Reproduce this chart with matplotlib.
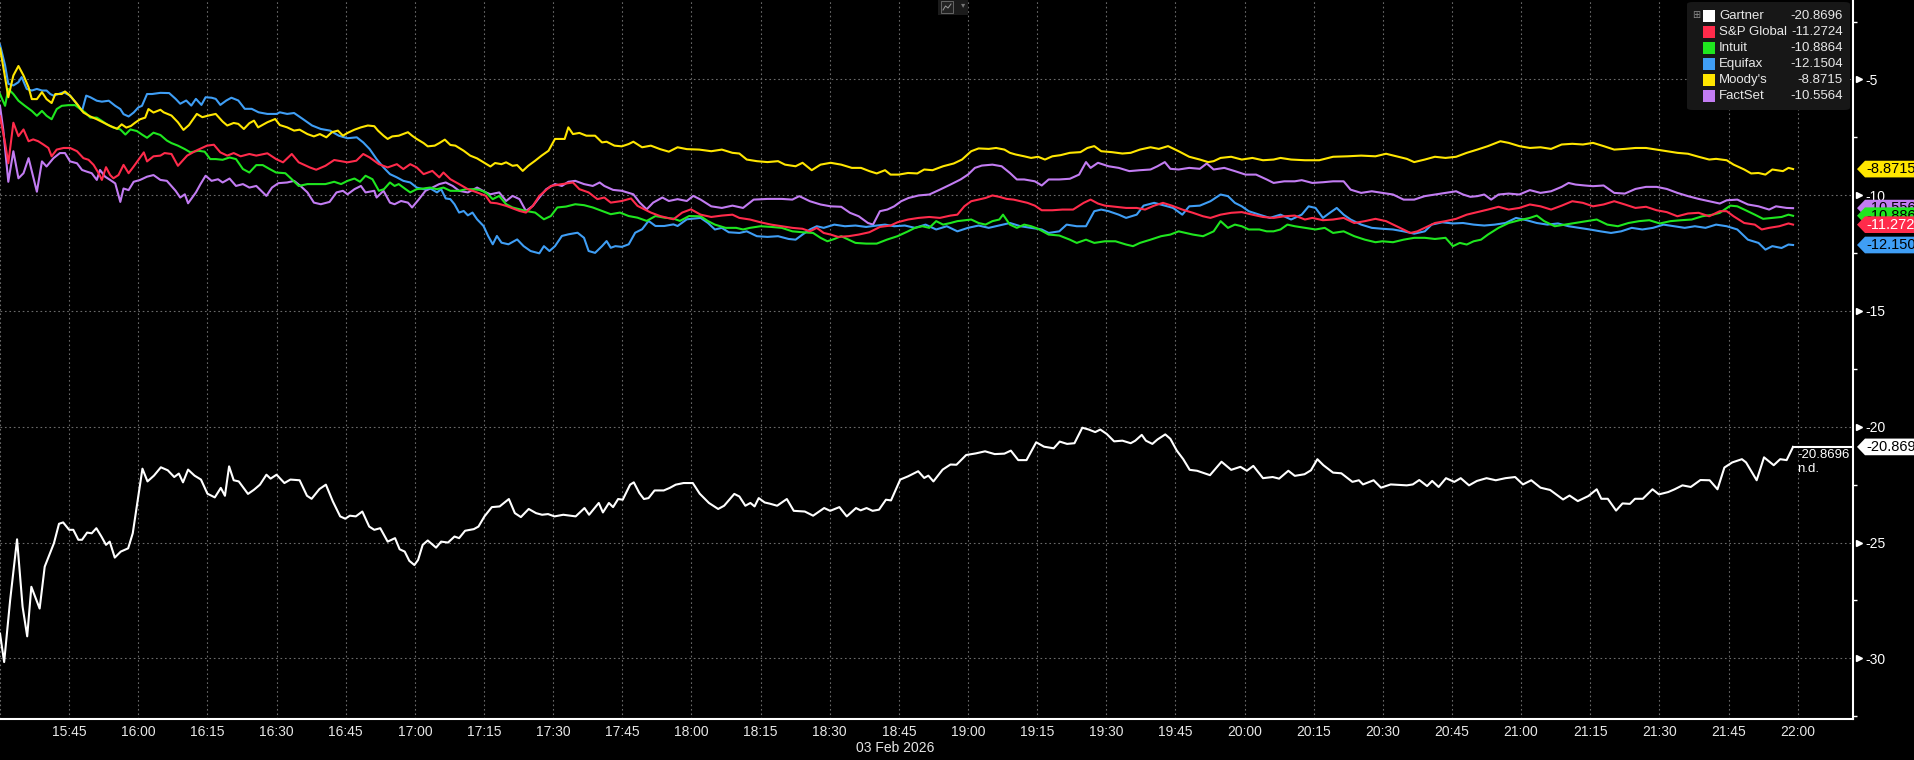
import matplotlib
matplotlib.use("Agg")
import matplotlib.pyplot as plt
import matplotlib.transforms as mtransforms
from matplotlib.patches import Polygon, Rectangle, FancyBboxPatch
from matplotlib.lines import Line2D
from matplotlib.ticker import AutoMinorLocator
import pandas as pd

plt.rcParams["font.family"] = ["Liberation Sans", "DejaVu Sans"]

# === DATA: (minutes after 15:30, % change) ===
names = ["Gartner", "S&P Global", "Intuit", "Equifax", "Moody's", "FactSet"]
colors = ["#ffffff", "#ff2b4b", "#1fe61f", "#3f9ef5", "#ffe600", "#c27cf2"]
tag_text_colors = ["black", "white", "black", "black", "black", "black"]
last_values = [-20.8696, -11.2724, -10.8864, -12.1504, -8.8715, -10.5564]

session_date = "2026-02-03"
date_label = "03 Feb 2026"
x_labels = ["15:45", "16:00", "16:15", "16:30", "16:45", "17:00", "17:15", "17:30",
            "17:45", "18:00", "18:15", "18:30", "18:45", "19:00", "19:15", "19:30",
            "19:45", "20:00", "20:15", "20:30", "20:45", "21:00", "21:15", "21:30",
            "21:45", "22:00"]
y_ticks = [-5, -10, -15, -20, -25, -30]

gartner = [
    (0, -28.93), (0.9, -30.16), (2.2, -27.49), (3.7, -24.86), (4.9, -27.77), (5.9, -29.05),
    (6.8, -26.91), (8.6, -27.85), (9.7, -26.04), (11.7, -25.03), (12.8, -24.19), (13.7, -24.13),
    (15, -24.45), (15.9, -24.45), (17, -24.88), (17.8, -24.88), (18.9, -24.57), (19.9, -24.60),
    (20.9, -24.38), (22, -24.74), (23, -25.10), (23.8, -24.96), (24.9, -25.65), (26.2, -25.39),
    (27.8, -25.25), (28.8, -24.60), (29.9, -23.15), (30.9, -21.81), (32, -22.36), (33.4, -22.11),
    (34.9, -21.75), (36.4, -21.88), (37.8, -22.17), (38.8, -22.02), (39.7, -22.40), (40.8, -21.85),
    (42.2, -22.11), (43.6, -22.28), (45, -22.89), (46.6, -23.05), (47.9, -22.64), (48.8, -22.98),
    (49.7, -21.71), (50.7, -22.31), (51.8, -22.36), (53.8, -22.90), (55.1, -22.72), (56.4, -22.50),
    (57.8, -22.07), (58.7, -22.24), (60, -22.07), (61.7, -22.43), (63, -22.28), (65, -22.31),
    (66.6, -22.98), (67.6, -23.11), (69.3, -22.69), (70.7, -22.50), (72.2, -23.22), (73.8, -23.87),
    (74.9, -23.97), (75.9, -23.84), (77.2, -23.87), (78.6, -23.66), (80.1, -24.31), (81.2, -24.45),
    (82.5, -24.38), (84.1, -24.96), (85.7, -24.81), (86.7, -25.29), (87.8, -25.39), (88.8, -25.79),
    (89.9, -25.97), (90.7, -25.75), (91.7, -25.10), (92.8, -24.91), (94.6, -25.22), (95.7, -24.96),
    (97.2, -25.00), (98.6, -24.74), (99.6, -24.81), (100.9, -24.49), (102.8, -24.42), (103.8, -24.31),
    (105.1, -23.87), (106.7, -23.47), (108.4, -23.44), (110.4, -23.12), (111.7, -23.73), (113, -23.90),
    (114.7, -23.55), (116.3, -23.73), (117.6, -23.80), (118.9, -23.77), (120.3, -23.87), (122.2, -23.80),
    (124.9, -23.87), (126.8, -23.51), (127.8, -23.80), (129.9, -23.29), (130.8, -23.70), (132.1, -23.29),
    (133, -23.47), (134.1, -23.12), (135.1, -23.15), (136.7, -22.50), (137.5, -22.40), (138.7, -22.86),
    (139.7, -23.12), (140.7, -23.08), (142, -22.75), (144, -22.75), (145.3, -22.64), (146.6, -22.50),
    (148.3, -22.43), (150.3, -22.43), (151.8, -22.89), (153.8, -23.29), (155.8, -23.55), (157.1, -23.41),
    (159.3, -22.90), (160.4, -23.01), (161.7, -23.41), (162.8, -23.29), (163.7, -23.44), (164.6, -23.08),
    (165.9, -23.27), (167, -23.32), (168.6, -23.41), (170.7, -23.12), (172.2, -23.63), (174.6, -23.66),
    (176.4, -23.84), (178.8, -23.51), (180.1, -23.63), (182.1, -23.47), (183.7, -23.87), (185.7, -23.51),
    (186.7, -23.61), (188, -23.51), (189.3, -23.63), (190.7, -23.58), (192.2, -23.15), (193.3, -23.18),
    (195.3, -22.28), (197, -22.14), (199.2, -21.92), (200.5, -22.21), (201.4, -22.11), (202.5, -22.36),
    (204.5, -21.85), (206.2, -21.63), (207.5, -21.64), (209.6, -21.22), (211.7, -21.15), (213.7, -21.06),
    (215.8, -21.18), (217.9, -21.16), (219.3, -21.03), (220.9, -21.44), (222.7, -21.44), (224.8, -20.67),
    (226.5, -20.86), (228.6, -20.93), (229.9, -20.64), (231.5, -20.74), (233.1, -20.71), (234.8, -20.04),
    (236.2, -20.12), (237.6, -20.23), (238.7, -20.12), (240.1, -20.31), (241.7, -20.63), (243.5, -20.60),
    (245.3, -20.71), (246.3, -20.60), (247.7, -20.35), (248.6, -20.60), (250, -20.74), (251.1, -20.55),
    (252.8, -20.33), (253.9, -20.52), (255.3, -21.03), (256.7, -21.40), (258.1, -21.86), (259.7, -21.90),
    (261.5, -22.02), (262.5, -22.09), (265, -21.51), (267.1, -21.86), (269.1, -21.73), (270.5, -21.90),
    (271.9, -21.69), (274, -22.22), (276.1, -22.17), (277.5, -22.24), (279.5, -21.90), (280.9, -22.12),
    (283, -22.05), (284.4, -21.88), (285.8, -21.40), (287.1, -21.66), (289.2, -21.98), (291, -22.01),
    (293.4, -22.38), (294.8, -22.31), (295.7, -22.49), (298, -22.31), (299.6, -22.63), (301.7, -22.49),
    (305.2, -22.53), (306.5, -22.49), (307.9, -22.30), (309.6, -22.56), (310.7, -22.34), (312.1, -22.60),
    (313.7, -22.22), (315.5, -22.38), (316.9, -22.22), (318.7, -22.53), (320.4, -22.34), (322.5, -22.22),
    (324.5, -22.31), (326.6, -22.22), (328.7, -22.17), (330.4, -22.49), (332.2, -22.31), (334.2, -22.63),
    (336.3, -22.73), (339.1, -23.14), (340.5, -22.97), (342.3, -23.21), (344.6, -22.99), (346.4, -22.70),
    (347.4, -23.11), (348.8, -23.11), (350.6, -23.62), (352, -23.31), (353.6, -23.33), (354.7, -23.11),
    (356.4, -23.11), (358.5, -22.70), (359.9, -22.92), (361.9, -22.82), (363.3, -22.70), (365, -22.53),
    (366.8, -22.60), (368.9, -22.30), (370.9, -22.31), (372.6, -22.70), (374.1, -21.76), (375.8, -21.54),
    (377.9, -21.40), (378.8, -21.54), (381.1, -22.31), (382.7, -21.32), (384.8, -21.66), (386.2, -21.40),
    (387.6, -21.44), (389, -20.87),
]

sp_global = [
    (0, -6.60), (1.1, -7.74), (1.8, -8.62), (2.9, -6.87), (4, -7.45), (5.1, -7.16), (6.2, -7.67),
    (7.2, -7.59), (8.3, -7.67), (9.4, -7.81), (10.5, -7.96), (11.2, -8.32), (12.3, -8.03), (13.8, -7.96),
    (15.2, -7.96), (16.7, -8.10), (18.1, -8.40), (19.2, -8.47), (20.3, -8.69), (21.4, -9.05), (22.1, -9.34),
    (23, -8.79), (23.9, -9.13), (24.6, -9.27), (25.7, -9.13), (26.8, -8.69), (27.9, -9.05), (29, -8.76),
    (31.2, -8.15), (31.9, -8.54), (33.3, -8.32), (34.8, -8.29), (35.7, -8.18), (37.2, -8.22), (38.6, -8.73),
    (40.6, -8.29), (42.5, -8.08), (44.9, -7.86), (46.4, -7.82), (47.8, -8.15), (49.3, -8.29), (50.7, -8.18),
    (52.2, -8.32), (54.1, -8.22), (55.6, -8.29), (58, -8.19), (59.9, -8.44), (61.4, -8.58), (63.3, -8.22),
    (64.8, -8.58), (67.2, -8.80), (68.6, -8.90), (70.6, -8.73), (72.5, -8.48), (75.4, -8.58), (77.3, -8.51),
    (78.8, -8.22), (80.2, -8.37), (82.2, -8.66), (84.1, -8.80), (86.1, -8.66), (87.5, -8.87), (89, -8.66),
    (90.4, -8.80), (91.9, -9.09), (93.8, -8.95), (95.3, -9.23), (96.2, -9.02), (97.7, -9.31), (99.6, -9.52),
    (101.5, -9.74), (103.5, -9.88), (105.4, -10.03), (106.4, -10.32), (107.8, -10.35), (109.8, -10.46),
    (112.7, -10.68), (114.1, -10.75), (115.6, -10.46), (117, -10.03), (119.5, -9.60), (121.9, -9.52),
    (124.3, -9.45), (125.7, -9.74), (127.7, -9.88), (129.6, -10.17), (131.1, -10.10), (132.5, -10.32),
    (134.9, -10.25), (136.9, -10.14), (138.3, -10.46), (139.8, -10.61), (141.2, -10.75), (143.2, -10.90),
    (146.1, -11.04), (148, -10.75), (149.9, -10.61), (152, -10.84), (154.3, -10.94), (156.6, -10.88),
    (158.9, -10.84), (160.4, -10.98), (162.7, -11.05), (165, -11.17), (167.3, -11.27), (169.6, -11.34),
    (171.9, -11.41), (174.1, -11.45), (175.7, -11.56), (177.2, -11.41), (178.7, -11.63), (180.2, -11.70),
    (181.8, -11.80), (184.1, -11.77), (186.3, -11.70), (188.6, -11.60), (190.9, -11.37), (193.2, -11.31),
    (194.7, -11.17), (197, -11.05), (199.3, -10.98), (201.6, -10.94), (203.9, -10.98), (206.2, -10.88),
    (207.7, -10.84), (209.2, -10.48), (210.7, -10.26), (212.3, -10.19), (213.8, -10.12), (215.3, -10.01),
    (216.8, -10.07), (218.4, -10.16), (219.9, -10.19), (221.4, -10.26), (222.9, -10.33), (224.5, -10.45),
    (226, -10.65), (228.3, -10.65), (230.5, -10.62), (232.8, -10.62), (235.1, -10.33), (236.6, -10.19),
    (238.2, -10.36), (239.7, -10.45), (242, -10.50), (244.3, -10.55), (246.6, -10.55), (248.4, -10.62),
    (250.4, -10.45), (252.3, -10.33), (254.2, -10.45), (256.5, -10.62), (258.8, -10.76), (261, -10.91),
    (262.6, -10.98), (264.8, -10.84), (267.1, -10.76), (269.4, -10.73), (271.7, -10.84), (274, -10.94),
    (276.3, -10.98), (278.6, -10.91), (280.9, -10.88), (283.1, -11.05), (284.7, -10.98), (287, -11.08),
    (289.2, -11.05), (291.5, -10.98), (293.8, -11.20), (296.1, -11.12), (298.4, -11.02), (300.7, -11.12),
    (303, -11.34), (304.5, -11.48), (306, -11.63), (307.5, -11.56), (309.1, -11.41), (311.3, -11.20),
    (313.6, -11.12), (315.9, -11.02), (318.2, -10.84), (320.5, -10.73), (322.8, -10.62), (325.1, -10.50),
    (327.3, -10.62), (329.6, -10.55), (331.9, -10.40), (334.2, -10.48), (336.5, -10.62), (338.8, -10.45),
    (341.1, -10.26), (343.4, -10.33), (345.6, -10.48), (347.9, -10.40), (350.2, -10.26), (352.5, -10.40),
    (354.8, -10.55), (357.1, -10.50), (359.4, -10.65), (361.6, -10.73), (363.9, -10.91), (366.2, -10.79),
    (368.5, -10.76), (370.8, -10.91), (373.1, -10.69), (374.6, -10.69), (376.1, -10.91), (378.4, -11.20),
    (380.7, -11.27), (382.2, -11.48), (383.8, -11.41), (386, -11.34), (388, -11.22), (389, -11.27),
]

intuit = [
    (0, -5.63), (1.1, -6.14), (1.8, -5.41), (2.9, -5.63), (4, -5.92), (5.4, -6.14), (6.9, -6.36),
    (8, -6.57), (9.1, -6.36), (10.1, -6.57), (11.2, -6.72), (12.3, -6.28), (13.4, -6.14), (14.9, -6.11),
    (16.3, -6.11), (17.4, -6.28), (18.5, -6.43), (19.6, -6.65), (21, -6.65), (22.1, -6.79), (23.2, -6.94),
    (24.6, -7.08), (26.1, -7.16), (27.2, -7.38), (28.3, -7.16), (29.7, -7.23), (30.8, -7.38), (31.9, -7.52),
    (33.3, -7.30), (34.8, -7.40), (36.2, -7.64), (37.2, -7.75), (38.6, -7.86), (40.1, -8.01), (41.3, -8.15),
    (43, -8.08), (44.4, -8.12), (45.6, -8.44), (46.8, -8.44), (48.3, -8.47), (49.8, -8.37), (51.2, -8.44),
    (52.7, -8.87), (54.1, -9.02), (55.6, -8.70), (57, -8.70), (58.5, -8.87), (59.9, -9.02), (61.9, -9.05),
    (63.3, -9.31), (64.8, -9.60), (66.7, -9.52), (68.6, -9.52), (70.6, -9.52), (72.5, -9.42), (74, -9.52),
    (75.4, -9.38), (76.9, -9.28), (78.1, -9.42), (79.3, -9.16), (80.8, -9.31), (82.2, -9.81), (83.3, -9.74),
    (84.6, -9.45), (85.6, -9.60), (86.5, -9.52), (88, -9.74), (89, -9.88), (90.4, -9.74), (91.9, -9.71),
    (93.3, -9.67), (94.8, -9.74), (96.2, -9.67), (97.7, -9.81), (99.6, -9.81), (101.1, -9.74), (102.5, -9.74),
    (104, -9.77), (105.4, -9.88), (106.9, -10.17), (108.3, -10.03), (109.8, -10.39), (111.2, -10.53),
    (112.7, -10.61), (114.1, -10.68), (116.1, -10.75), (118, -11.04), (119.5, -10.90), (120.9, -10.53),
    (122.8, -10.49), (124.8, -10.39), (126.7, -10.43), (128.6, -10.53), (130.6, -10.68), (132.5, -10.82),
    (134.5, -10.75), (136.4, -10.90), (138.3, -10.97), (140.3, -11.11), (142.2, -10.90), (144.1, -10.97),
    (146.1, -11.01), (147.5, -11.11), (149.5, -10.90), (152, -10.91), (153.6, -11.12), (155.1, -11.27),
    (157.4, -11.41), (159.7, -11.41), (161.2, -11.48), (162.7, -11.41), (165, -11.34), (167.3, -11.37),
    (169.6, -11.41), (171.9, -11.56), (174.1, -11.60), (176.4, -11.63), (178, -11.84), (179.5, -11.99),
    (181, -11.89), (182.5, -11.77), (184.1, -11.92), (185.6, -12.06), (187.9, -12.09), (190.2, -12.09),
    (192.4, -11.92), (194.7, -11.77), (197, -11.56), (198.5, -11.41), (200.1, -11.34), (201.6, -11.41),
    (203.1, -11.12), (204.6, -11.27), (206.2, -11.20), (207.7, -11.12), (210.7, -11.05), (212.3, -11.20),
    (213.8, -11.27), (215.3, -11.12), (216.8, -11.05), (217.6, -10.84), (219.1, -11.27), (220.6, -11.41),
    (222.2, -11.27), (223.7, -11.34), (225.2, -11.45), (227.5, -11.70), (229.8, -11.74), (232.1, -11.92),
    (233.6, -12.06), (235.6, -11.92), (237.4, -12.06), (239.7, -11.99), (242, -11.99), (244.3, -12.13),
    (245.8, -12.20), (247.3, -12.06), (249.6, -11.92), (251.9, -11.77), (253.9, -11.70), (255.7, -11.56),
    (257.2, -11.63), (258.8, -11.70), (261, -11.77), (263.3, -11.56), (264.8, -11.12), (266.4, -11.41),
    (267.9, -11.27), (269.4, -11.34), (270.9, -11.48), (273.2, -11.48), (274.8, -11.56), (276.3, -11.56),
    (277.8, -11.48), (279.3, -11.27), (280.9, -11.34), (283.1, -11.41), (285.4, -11.48), (287.4, -11.41),
    (289.2, -11.63), (291.5, -11.56), (293.8, -11.77), (296.1, -11.92), (298.4, -12.03), (299.9, -11.99),
    (302.2, -12.03), (304.5, -11.92), (306.8, -11.84), (309.1, -11.84), (311.3, -11.89), (313.6, -11.84),
    (315.2, -12.20), (316.7, -12.06), (318.2, -12.13), (319.7, -11.99), (321.3, -11.92), (322.8, -11.70),
    (325.1, -11.41), (327.3, -11.20), (329.6, -11.08), (331.9, -10.98), (333.4, -10.88), (335, -11.12),
    (337.3, -11.34), (339.5, -11.27), (341.8, -11.20), (344.1, -11.12), (346.4, -11.05), (348.7, -11.27),
    (351, -11.34), (353.3, -11.20), (355.6, -11.12), (357.8, -11.08), (360.1, -11.22), (362.4, -11.12),
    (364.7, -11.08), (367, -11.05), (369.3, -10.91), (371.6, -10.84), (373.1, -10.76), (375.4, -10.45),
    (376.9, -10.48), (378.4, -10.62), (380.7, -10.84), (382.5, -11.02), (384.5, -10.98), (386.5, -10.94),
    (388, -10.84), (389, -10.89),
]

equifax = [
    (0, -3.50), (1.1, -4.39), (1.8, -5.19), (2.9, -5.26), (4, -5.12), (4.7, -4.90), (5.8, -5.41),
    (6.9, -5.48), (8, -5.41), (9.1, -5.48), (10.1, -5.48), (10.9, -5.63), (11.6, -5.70), (12.7, -5.63),
    (13.8, -5.55), (15.2, -5.70), (16.7, -6.06), (17.8, -6.36), (18.7, -5.70), (19.6, -5.77), (21, -5.92),
    (22.1, -5.96), (23.6, -5.92), (25, -6.14), (26.1, -6.28), (26.8, -6.50), (27.9, -6.60), (29, -6.43),
    (30, -6.21), (30.8, -6.14), (31.9, -5.63), (33, -5.63), (34.8, -5.58), (36.7, -5.59), (38.1, -5.84),
    (39.1, -6.05), (40.4, -5.91), (41.5, -6.13), (42.5, -5.84), (43.7, -6.10), (44.6, -5.77), (45.9, -5.79),
    (46.8, -5.84), (47.8, -6.10), (49.1, -5.91), (50.2, -5.79), (51.7, -5.91), (53.1, -6.27), (54.6, -6.27),
    (56.1, -6.42), (58, -6.49), (60, -6.49), (60.7, -6.42), (62.3, -6.49), (63.8, -6.45), (65.7, -6.71),
    (67.7, -6.99), (69.6, -7.14), (71.6, -7.21), (73.5, -7.43), (75.4, -7.54), (77.4, -7.50), (78.8, -7.72),
    (80.2, -8.01), (81.7, -8.44), (83.2, -8.80), (84.6, -9.09), (86.1, -9.23), (87.5, -9.38), (89, -9.45),
    (90.4, -9.67), (91.9, -9.74), (93.3, -9.70), (94.8, -9.88), (95.7, -9.74), (96.7, -10.14), (97.7, -10.17),
    (98.6, -10.39), (99.6, -10.75), (100.6, -10.68), (101.5, -10.87), (102.5, -10.75), (103.5, -11.04),
    (104.9, -11.33), (105.9, -11.76), (106.9, -12.12), (107.8, -11.76), (108.8, -12.05), (110.3, -12.12),
    (112.2, -11.91), (113.6, -12.20), (115.1, -12.41), (117, -12.51), (118, -12.20), (119.2, -12.41),
    (120.4, -12.20), (121.9, -11.76), (123.3, -11.69), (125.3, -11.62), (126.7, -11.84), (127.7, -12.41),
    (129.1, -12.49), (130.6, -12.20), (131.6, -11.98), (132.5, -12.27), (133.5, -12.20), (134.9, -12.23),
    (136.4, -12.12), (137.8, -11.62), (139.3, -11.47), (140.7, -11.11), (142.2, -11.33), (144.1, -11.33),
    (146.1, -11.26), (147, -11.33), (149, -11.04), (152, -10.98), (153.6, -11.20), (155.1, -11.48),
    (156.6, -11.41), (158.1, -11.60), (160.4, -11.63), (162, -11.56), (164.2, -11.77), (166.5, -11.80),
    (168.8, -11.77), (171.1, -11.89), (172.6, -11.92), (174.1, -11.70), (175.7, -11.48), (177.2, -11.34),
    (178.7, -11.41), (181, -11.27), (183.3, -11.34), (185.6, -11.31), (187.9, -11.37), (190.2, -11.31),
    (192, -11.27), (194, -11.34), (196.3, -11.31), (198.5, -11.41), (200.8, -11.27), (203.1, -11.48),
    (205.4, -11.34), (207.7, -11.56), (210, -11.41), (212.3, -11.31), (214.5, -11.41), (217.6, -11.27),
    (219.1, -11.20), (221.4, -11.34), (223.7, -11.41), (226, -11.48), (227.5, -11.63), (229.8, -11.56),
    (231.4, -11.27), (233.6, -11.34), (235.6, -11.34), (237.4, -10.69), (238.9, -10.62), (240.5, -10.69),
    (242.7, -10.84), (244.3, -10.98), (246.6, -10.84), (248.1, -10.45), (250.4, -10.33), (252.7, -10.45),
    (254.5, -10.55), (256.5, -10.84), (258, -10.48), (260.3, -10.45), (262.6, -10.26), (264.8, -9.97),
    (266.4, -10.04), (267.9, -10.33), (269.4, -10.48), (270.9, -10.69), (273.2, -10.84), (275.5, -10.98),
    (277.8, -10.84), (280.1, -11.05), (282.4, -10.84), (283.9, -10.48), (285.4, -10.55), (287, -10.98),
    (288.5, -10.76), (290, -10.55), (291.5, -10.84), (293, -11.05), (295.3, -11.27), (297.6, -11.41),
    (299.9, -11.45), (302.2, -11.48), (304.5, -11.56), (306.8, -11.66), (309.1, -11.56), (310.6, -11.27),
    (312.9, -11.17), (315.2, -11.22), (317.4, -11.20), (319.7, -11.27), (322, -11.31), (324.3, -11.27),
    (326.6, -11.20), (328.9, -10.98), (331.2, -11.08), (333.4, -11.20), (335.7, -11.27), (338, -11.22),
    (340.3, -11.34), (342.6, -11.41), (344.9, -11.48), (347.2, -11.56), (349.5, -11.63), (351.7, -11.56),
    (354, -11.41), (356.3, -11.48), (358.6, -11.41), (360.9, -11.27), (363.2, -11.34), (365.5, -11.41),
    (367.7, -11.34), (370, -11.41), (372.3, -11.27), (374.6, -11.34), (376.9, -11.48), (379.2, -11.92),
    (381.5, -12.06), (383, -12.35), (384.5, -12.20), (386.5, -12.28), (388, -12.13), (389, -12.15),
]

moodys = [
    (0, -3.66), (0.9, -4.68), (1.8, -5.77), (2.9, -4.83), (4, -4.42), (5.1, -4.83), (6.2, -5.34),
    (6.9, -5.85), (8, -5.85), (9.1, -5.55), (10.1, -5.85), (11.2, -6.02), (12, -5.63), (13.4, -5.63),
    (14.1, -5.52), (15.2, -5.70), (16.7, -6.06), (18.1, -6.43), (19.6, -6.60), (21, -6.72), (22.5, -6.87),
    (23.9, -7.01), (25.4, -7.13), (26.4, -6.94), (27.4, -7.08), (28.4, -7.01), (29.3, -6.87), (30.4, -6.72),
    (31.5, -6.65), (32.2, -6.28), (33.3, -6.43), (34.8, -6.31), (35.5, -6.42), (37.2, -6.56), (38.6, -6.85),
    (39.8, -7.18), (41, -6.97), (42.7, -6.49), (43.9, -6.63), (45.2, -6.56), (46.8, -6.49), (48.3, -6.82),
    (49.3, -6.99), (50.7, -6.88), (51.7, -6.92), (52.9, -7.14), (54.1, -6.89), (55.1, -6.78), (56, -7.07),
    (58, -6.85), (59.7, -6.71), (60.7, -6.97), (62.3, -7.07), (63.8, -7.21), (65, -7.17), (66.7, -7.36),
    (68.1, -7.46), (69.4, -7.36), (70.8, -7.50), (72, -7.28), (73.3, -7.21), (74.4, -7.43), (75.4, -7.31),
    (76.9, -7.17), (78.3, -7.07), (79.8, -6.99), (81.2, -7.02), (82, -7.21), (83.2, -7.43), (84.1, -7.57),
    (85.1, -7.46), (86.5, -7.43), (88.5, -7.28), (89.4, -7.43), (90.4, -7.57), (91.9, -7.75), (92.8, -7.89),
    (94.3, -7.86), (95.3, -7.75), (96.5, -7.60), (97.7, -7.83), (98.8, -7.86), (100.6, -8.08), (102, -8.29),
    (103.5, -8.41), (104.9, -8.58), (106.4, -8.76), (107.4, -8.61), (108.8, -8.66), (109.8, -8.58),
    (111.2, -8.73), (112.2, -8.70), (113.4, -8.95), (114.6, -8.73), (116.1, -8.51), (117.5, -8.29),
    (119, -8.08), (120.4, -7.57), (121.7, -7.57), (122.5, -7.57), (123.3, -7.07), (124.3, -7.36),
    (125.7, -7.31), (127.2, -7.43), (129.1, -7.43), (130.6, -7.72), (131.6, -7.69), (133.3, -7.86),
    (134.9, -7.89), (136.4, -7.79), (137.4, -7.69), (139.3, -7.93), (141.2, -7.86), (143.2, -8.01),
    (145.1, -8.12), (147, -7.93), (149, -8.01), (151.7, -8.03), (154.3, -8.10), (156.6, -8.03),
    (158.9, -8.17), (160.4, -8.20), (162, -8.46), (164.2, -8.53), (166.5, -8.57), (168.8, -8.53),
    (170.3, -8.68), (172.6, -8.75), (174.1, -8.60), (176.1, -8.92), (178, -8.68), (180.2, -8.60),
    (182.5, -8.68), (184.8, -8.82), (186.8, -8.82), (188.6, -8.96), (190.2, -9.06), (192, -8.92),
    (193.2, -9.11), (195, -9.11), (197, -9.04), (199, -9.06), (200.5, -8.89), (202.3, -8.92), (204.6, -8.75),
    (206.9, -8.63), (208.7, -8.46), (210.7, -8.10), (212.3, -7.98), (214.5, -8.00), (216.1, -7.96),
    (217.9, -8.03), (219.1, -8.17), (220.3, -8.24), (222.2, -8.32), (223.7, -8.39), (225.2, -8.34),
    (226.7, -8.46), (228.3, -8.32), (230.1, -8.27), (232.1, -8.17), (234.4, -8.14), (235.9, -7.96),
    (237.4, -7.88), (238.9, -8.10), (241.2, -8.14), (243.5, -8.20), (245.3, -8.17), (247.3, -8.03),
    (249.6, -7.93), (251.4, -8.00), (253.4, -7.88), (255.7, -8.10), (258, -8.34), (260.3, -8.46),
    (262.1, -8.57), (263.3, -8.53), (264.8, -8.39), (267.1, -8.34), (269.4, -8.46), (271.7, -8.39),
    (274, -8.49), (276.3, -8.46), (277.8, -8.39), (280.1, -8.46), (283.1, -8.49), (286.2, -8.49),
    (289.2, -8.34), (292.3, -8.32), (295.3, -8.29), (298.4, -8.32), (300.7, -8.21), (303, -8.32),
    (305.2, -8.43), (306.8, -8.57), (309.1, -8.46), (311.3, -8.34), (313.6, -8.39), (315.9, -8.34),
    (318.2, -8.17), (320.5, -8.03), (322.8, -7.88), (325.5, -7.67), (327.3, -7.74), (329.6, -7.88),
    (331.9, -7.96), (334.2, -7.93), (336.5, -8.00), (338.8, -7.81), (341.1, -7.78), (343.4, -7.81),
    (345.6, -7.74), (347.9, -7.88), (350.2, -8.03), (352.5, -8.00), (354.8, -7.96), (357.1, -7.96),
    (359.4, -8.03), (361.6, -8.10), (363.9, -8.17), (366.2, -8.21), (368.5, -8.34), (370.8, -8.46),
    (372.3, -8.43), (374.6, -8.49), (376.1, -8.68), (378.4, -8.89), (379.9, -9.06), (381.5, -9.04),
    (383, -9.11), (384.5, -8.89), (386.8, -8.96), (388, -8.82), (389, -8.87),
]

factset = [
    (0, -6.14), (0.7, -7.16), (1.8, -9.42), (2.9, -8.10), (4, -9.27), (5.1, -9.05), (6.2, -8.40),
    (8, -9.85), (9.1, -8.54), (10.1, -8.76), (11.6, -8.40), (13, -8.18), (14.1, -8.18), (15.2, -8.54),
    (16.7, -8.62), (17.8, -8.91), (18.8, -8.98), (19.9, -9.05), (21, -9.34), (21.7, -8.91), (22.8, -9.20),
    (23.9, -9.34), (25, -9.49), (26.1, -10.29), (26.8, -9.71), (27.9, -9.78), (29, -9.42), (30.4, -9.34),
    (31.9, -9.20), (33.3, -9.13), (34.8, -9.34), (36.2, -9.38), (38.1, -9.81), (39.1, -10.10), (40.1, -9.96),
    (40.8, -10.35), (42.5, -9.88), (43.5, -9.52), (44.6, -9.16), (45.9, -9.38), (47.3, -9.31), (48.3, -9.45),
    (49.8, -9.28), (51.2, -9.60), (52.7, -9.52), (54.1, -9.67), (55.6, -9.60), (57.8, -10.03), (59, -9.67),
    (60.4, -9.48), (62.3, -9.45), (63.8, -9.38), (65.2, -9.60), (66.7, -9.88), (68.1, -10.32), (69.6, -10.39),
    (71.5, -10.29), (73, -9.88), (74.4, -9.81), (75.4, -9.96), (76.9, -9.74), (78.3, -9.60), (79.3, -9.88),
    (81.2, -9.81), (81.7, -10.10), (83.2, -9.81), (84.6, -10.32), (85.6, -10.39), (87, -10.25), (88.5, -10.32),
    (89.4, -10.53), (90.9, -10.17), (92.3, -9.81), (93.8, -9.67), (95.3, -9.52), (96.7, -9.45), (98.2, -9.60),
    (99.6, -9.81), (101.5, -9.88), (103.5, -9.67), (105.4, -9.88), (106.4, -9.96), (108.3, -9.88),
    (109.8, -10.25), (111.2, -10.03), (112.7, -10.17), (114.1, -10.68), (115.6, -10.46), (117, -10.10),
    (118.5, -9.74), (120.4, -9.52), (121.9, -9.60), (123.3, -9.42), (124.8, -9.38), (126.7, -9.52),
    (128.6, -9.60), (130.1, -9.45), (131.1, -9.60), (133, -9.77), (134.9, -9.81), (137.4, -9.96),
    (138.8, -10.32), (140.3, -10.61), (141.7, -10.32), (143.7, -10.10), (145.1, -10.25), (147, -10.17),
    (149, -10.25), (150.4, -10.03), (152, -10.19), (154.3, -10.48), (156.6, -10.55), (158.9, -10.45),
    (161.2, -10.55), (163.5, -10.19), (166.5, -10.16), (169.6, -10.16), (171.9, -10.19), (173.4, -10.04),
    (175.7, -10.26), (178, -10.40), (180.2, -10.48), (182.5, -10.50), (184.4, -10.76), (186.3, -10.91),
    (188.3, -11.20), (189.4, -11.27), (190.9, -10.69), (192.5, -10.62), (194, -10.48), (195.5, -10.26),
    (197.1, -10.12), (199.3, -10.01), (201.6, -9.97), (203.9, -9.76), (206.2, -9.54), (208.4, -9.32),
    (210, -9.11), (211.5, -8.82), (213, -8.72), (215.3, -8.68), (217.3, -8.75), (219.1, -9.04),
    (220.6, -9.32), (222.2, -9.32), (224.5, -9.40), (226, -9.58), (227.5, -9.32), (229.8, -9.32),
    (232.1, -9.29), (234.1, -9.11), (235.6, -8.57), (236.6, -8.82), (238.2, -8.60), (240.5, -8.75),
    (242.7, -8.82), (245, -8.96), (247.3, -8.92), (249.6, -8.89), (251.1, -8.75), (252.7, -8.57),
    (253.9, -8.86), (255.7, -8.89), (258, -8.82), (260.3, -8.86), (261.8, -8.63), (263.3, -8.89),
    (265.6, -8.82), (267.9, -8.96), (270.2, -9.11), (272.5, -9.11), (274.8, -9.32), (276.3, -9.47),
    (278.6, -9.40), (280.9, -9.40), (282.4, -9.35), (284.7, -9.47), (287, -9.44), (289.2, -9.40),
    (291.5, -9.40), (293, -9.76), (295.3, -9.90), (297.6, -9.83), (299.9, -9.90), (302.2, -9.97),
    (304.5, -10.19), (306.8, -10.19), (309.1, -10.04), (311.3, -9.97), (313.6, -9.90), (315.9, -9.83),
    (317.4, -9.97), (319, -10.07), (320.5, -10.04), (322, -9.97), (323.5, -10.19), (325.1, -9.97),
    (327.3, -9.93), (329.6, -9.97), (331.9, -9.78), (334.2, -9.90), (336.5, -9.83), (338.8, -9.64),
    (340.3, -9.47), (341.8, -9.54), (343.8, -9.58), (345.6, -9.61), (347.9, -9.58), (350.2, -9.90),
    (352.5, -9.93), (354.8, -9.73), (357.1, -9.64), (359.4, -9.64), (361.6, -9.73), (363.9, -9.90),
    (366.2, -10.04), (368.5, -10.16), (370.8, -10.26), (373.1, -10.36), (374.6, -10.22), (376.9, -10.19),
    (379.2, -10.40), (381.5, -10.48), (383.8, -10.62), (385.3, -10.48), (387.6, -10.55), (389, -10.56),
]

series = [gartner, sp_global, intuit, equifax, moodys, factset]

# === Figure ===
W, H = 1915, 760
start = pd.Timestamp(session_date + " 15:30")
end = start + pd.Timedelta(minutes=402)


def to_time(mins):
    return [start + pd.Timedelta(minutes=m) for m in mins]


fig = plt.figure(figsize=(W / 100, H / 100), dpi=100, facecolor="black")
ax = fig.add_axes([0, 41 / H, 1853 / W, 719 / H], facecolor="black")

grid_style = dict(color="#6a6a6a", linestyle=(0, (1.5, 2.5)), linewidth=0.8)

# lines, FactSet at the bottom, Gartner on top
for i in [5, 3, 2, 1, 4, 0]:
    t, v = zip(*series[i])
    ax.plot(to_time(t), v, color=colors[i], lw=1.5, zorder=3)

# Gartner has no later data: last value carried to the axis
g_last_t = to_time([gartner[-1][0]])[0]
ax.plot([g_last_t, end], [last_values[0], last_values[0]], color=colors[0], lw=1.5, zorder=3)

ax.set_xlim(start, end)
ax.set_ylim(-32.62, -1.57)

ax.set_xticks([pd.Timestamp(session_date + " " + s) for s in x_labels])
ax.set_xticklabels(x_labels)
ax.grid(True, which="major", **grid_style)
ax.axvline(start, **grid_style)

ax.yaxis.tick_right()
ax.set_yticks(y_ticks)
ax.set_yticklabels([str(v) for v in y_ticks])
ax.yaxis.set_minor_locator(AutoMinorLocator(2))

ax.tick_params(axis="x", length=0, pad=4, labelcolor="#e6e6e6", labelsize=10)
ax.tick_params(axis="y", which="major", length=0, pad=9, labelcolor="white", labelsize=10)
ax.tick_params(axis="y", which="minor", length=3, width=1, color="white", direction="out")

for side in ["left", "top"]:
    ax.spines[side].set_visible(False)
for side in ["right", "bottom"]:
    ax.spines[side].set_color("white")
    ax.spines[side].set_linewidth(1.5)

# little arrow heads on the y ticks
ax.plot([1.0032] * len(y_ticks), y_ticks, ls="none", marker=">", ms=5, color="white",
        transform=ax.get_yaxis_transform(), clip_on=False, zorder=5)

# === Value tags on the right axis ===
blend = mtransforms.blended_transform_factory(fig.transFigure, ax.transData)
h = 0.36
tag_order = [5, 2, 1, 3, 4, 0]
for z, i in enumerate(tag_order):
    y = last_values[i]
    x0, x1 = 1857 / W, 1865 / W
    poly = Polygon([(x0, y), (x1, y + h), (1.01, y + h), (1.01, y - h), (x1, y - h)],
                   closed=True, transform=blend, facecolor=colors[i], edgecolor="none",
                   clip_on=False, zorder=10 + 2 * z)
    fig.add_artist(poly)
    fig.text(1866 / W, y, f"{y:.4f}", transform=blend, ha="left", va="center",
             fontsize=10.5, color=tag_text_colors[i], zorder=11 + 2 * z)

fig.text(1797 / W, 1 - 449 / H, f"{last_values[0]:.4f}\nn.d.", ha="left", va="top",
         fontsize=9.5, color="white", linespacing=1.25, zorder=8)

# === Legend ===
fig.add_artist(FancyBboxPatch((1687 / W, 1 - 110 / H), 163 / W, 108 / H,
                              boxstyle="round,pad=0,rounding_size=0.003",
                              transform=fig.transFigure, facecolor="#171717",
                              edgecolor="none", zorder=30))
fig.text(1696 / W, 1 - 15 / H, "\u229e", ha="center", va="center", fontsize=7,
         color="#8c8c8c", family="DejaVu Sans", zorder=31)
for k, name in enumerate(names):
    yc = 1 - (16 + 16 * k) / H
    fig.add_artist(Rectangle((1703 / W, yc - 6 / H), 12 / W, 12 / H, transform=fig.transFigure,
                             facecolor=colors[k], edgecolor="none", zorder=31))
    fig.text(1719 / W, yc, name, ha="left", va="center", fontsize=9.5, color="#e8e8e8", zorder=31)
    fig.text(1843 / W, yc, f"{last_values[k]:.4f}", ha="right", va="center", fontsize=9.5,
             color="#e8e8e8", zorder=31)

# small chart-type button at the top
fig.add_artist(Rectangle((938 / W, 1 - 15 / H), 30 / W, 15 / H, transform=fig.transFigure,
                         facecolor="#1b1b1b", edgecolor="none", zorder=30))
fig.add_artist(Rectangle((941 / W, 1 - 13 / H), 12 / W, 12 / H, transform=fig.transFigure,
                         facecolor="#222222", edgecolor="#707070", lw=0.6, zorder=31))
fig.add_artist(Line2D([943 / W, 945.5 / W, 948 / W, 951 / W],
                      [1 - 10 / H, 1 - 6 / H, 1 - 8 / H, 1 - 4 / H],
                      transform=fig.transFigure, color="#9a9a9a", lw=0.7, zorder=32))
fig.text(963 / W, 1 - 5 / H, "\u25be", ha="center", va="center", fontsize=6,
         color="#777777", family="DejaVu Sans", zorder=31)

fig.text(895 / W, 1 - 747.5 / H, date_label, ha="center", va="center", fontsize=10,
         color="#e6e6e6")

fig.savefig("out.png", dpi=100, facecolor="black")
